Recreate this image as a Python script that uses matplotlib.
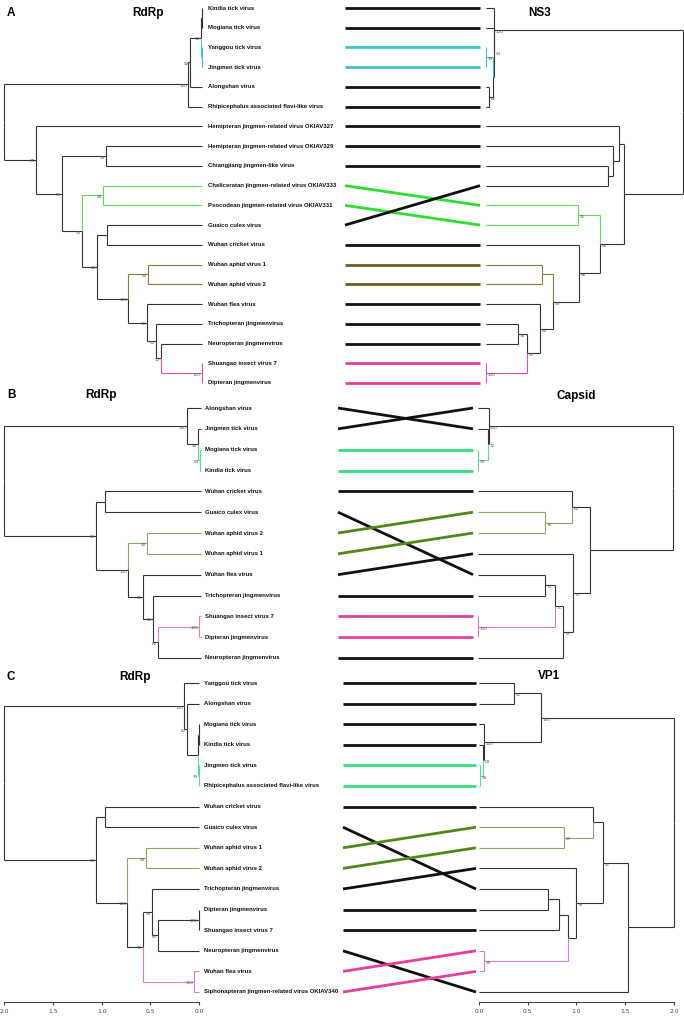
import matplotlib
matplotlib.use('Agg')
import matplotlib.pyplot as plt
from matplotlib.transforms import offset_copy

# ---------------- data ----------------
NAMES = {
    'KIN': 'Kindia tick virus', 'MOG': 'Mogiana tick virus', 'YAN': 'Yanggou tick virus',
    'JIN': 'Jingmen tick virus', 'ALO': 'Alongshan virus',
    'RHI': 'Rhipicephalus associated flavi-like virus',
    'H327': 'Hemipteran jingmen-related virus OKIAV327',
    'H329': 'Hemipteran jingmen-related virus OKIAV329',
    'CHI': 'Chiangjiang jingmen-like virus',
    'CHE': 'Cheliceratan jingmen-related virus OKIAV333',
    'PSO': 'Psocodean jingmen-related virus OKIAV331',
    'GUA': 'Guaico culex virus', 'CRI': 'Wuhan cricket virus',
    'AP1': 'Wuhan aphid virus 1', 'AP2': 'Wuhan aphid virus 2',
    'FLE': 'Wuhan flea virus', 'TRI': 'Trichopteran jingmenvirus',
    'NEU': 'Neuropteran jingmenvirus', 'SHU': 'Shuangao insect virus 7',
    'DIP': 'Dipteran jingmenvirus',
    'SIP': 'Siphonapteran jingmen-related virus OKIAV340',
}

# trees: (children)support@height ; height = distance from the tips on the axis scale
TREE_A_LEFT = ("(((((KIN,MOG)@0.005,(YAN,JIN)@0.005)93@0.012,ALO)92@0.123,RHI)100@0.144,"
               "(H327,((H329,CHI)99@0.986,((CHE,PSO)90@1.016,((GUA,CRI)@0.975,((AP1,AP2)90@0.554,"
               "(FLE,(TRI,(NEU,(SHU,DIP)100@0.003)52@0.421)53@0.472)55@0.565)100@0.760)50@1.078)"
               "53@1.232)53@1.437)95@1.70)@2.03")
TREE_A_RIGHT = ("((KIN,(MOG,((YAN,JIN)99@0.005,(ALO,RHI)66@0.03)@0.077)94@0.082)100@0.087,"
                "((H327,(H329,(CHI,GUA)@1.253)@1.304)@1.366,((CHE,PSO)91@0.945,(CRI,((AP1,AP2)@0.575,"
                "(FLE,((TRI,NEU)76@0.329,(SHU,DIP)100@0.005)97@0.421)69@0.554)99@0.688)86@0.955)"
                "66@1.170)@1.417)@2.023")
TREE_B_LEFT = ("((ALO,(JIN,(MOG,KIN)99@0.015)92@0.03)100@0.144,((CRI,GUA)@0.986,((AP2,AP1)90@0.554,"
               "(FLE,(TRI,((SHU,DIP)100@0.02,NEU)82@0.441)50@0.493)55@0.595)100@0.75)93@1.078)@2.02")
TREE_B_RIGHT = ("((JIN,(ALO,(MOG,KIN)99@0.005)72@0.103)100@0.108,((CRI,(AP2,AP1)76@0.688)61@0.965,"
                "(FLE,(((GUA,TRI)73@0.688,(SHU,DIP)100@0.005)71@0.79,NEU)79@0.873)73@0.975)@1.15)@2.0")
TREE_C_LEFT = ("((YAN,(ALO,((MOG,KIN)@0.005,(JIN,RHI)99@0.005)@0.012)62@0.123)100@0.154,"
               "((CRI,GUA)@0.965,((AP1,AP2)90@0.544,((TRI,((DIP,SHU)100@0.005,NEU)60@0.421)99@0.483,"
               "(FLE,SIP)100@0.051)55@0.575)100@0.739)53@1.057)@2.0")
TREE_C_RIGHT = ("(((YAN,ALO)91@0.36,(MOG,(KIN,(JIN,RHI)99@0.01)69@0.041)100@0.051)100@0.637,"
                "(((CRI,(AP1,AP2)67@0.873)@1.17,(TRI,(((GUA,DIP)@0.708,SHU)@0.821,(FLE,SIP)99@0.051)"
                "@0.914)78@0.996)91@1.273,NEU)@1.53)@2.0")

CLADES_A = [(('YAN', 'JIN'), '#3cc6c6', '#3cc6c6'), (('CHE', 'PSO'), '#2ee02e', '#55e055'),
            (('AP1', 'AP2'), '#6e5f1e', '#8a7a38'), (('SHU', 'DIP'), '#e6409c', '#e050ac')]
CLADES_B = [(('MOG', 'KIN'), '#33e07e', '#55dc9a'), (('AP1', 'AP2'), '#4e8a1a', '#8aa862'),
            (('SHU', 'DIP'), '#e6409c', '#e27cc0')]
CLADES_C = [(('JIN', 'RHI'), '#33e07e', '#55dc9a'), (('AP1', 'AP2'), '#4e8a1a', '#8aa862'),
            (('FLE', 'SIP'), '#e6409c', '#e27cc0')]

AXIS_TICKS = [2.0, 1.5, 1.0, 0.5, 0.0]

# ---------------- helpers ----------------
def parse(s):
    pos = 0
    def node():
        nonlocal pos
        if s[pos] == '(':
            pos += 1
            ch = [node()]
            while s[pos] == ',':
                pos += 1
                ch.append(node())
            pos += 1  # ')'
            j = pos
            while pos < len(s) and s[pos] not in ',)@':
                pos += 1
            lab = s[j:pos]
            h = 0.0
            if pos < len(s) and s[pos] == '@':
                pos += 1
                j = pos
                while pos < len(s) and s[pos] not in ',)':
                    pos += 1
                h = float(s[j:pos])
            return {'children': ch, 'label': lab, 'h': h, 'color': None}
        j = pos
        while s[pos] not in ',)':
            pos += 1
        return {'name': s[j:pos].strip(), 'h': 0.0, 'color': None}
    return node()

def set_y(n, leaves):
    if 'name' in n:
        leaves.append(n)
        n['y'] = len(leaves)
        n['tips'] = {n['name']}
    else:
        for c in n['children']:
            set_y(c, leaves)
        n['y'] = (n['children'][0]['y'] + n['children'][-1]['y']) / 2
        n['tips'] = set().union(*[c['tips'] for c in n['children']])

def all_nodes(n):
    yield n
    for c in n.get('children', []):
        yield from all_nodes(c)

def paint(root, tips, col):
    best = None
    for n in all_nodes(root):
        if set(tips) <= n['tips'] and (best is None or len(n['tips']) < len(best['tips'])):
            best = n
    for n in all_nodes(best):
        n['color'] = col

TREE_COL = '#333333'
W, H = 684, 1019
PX = 97.4

fig = plt.figure(figsize=(W / 100, H / 100), dpi=100)
fig.patch.set_facecolor('white')

def draw_tree(ax, root, side):
    for n in all_nodes(root):
        if 'children' not in n:
            continue
        for c in n['children']:
            col = c['color'] or TREE_COL
            ax.plot([n['h'], n['h']], [n['y'], c['y']], color=col, lw=0.8,
                    solid_capstyle='butt', clip_on=False)
            ax.plot([n['h'], c['h']], [c['y'], c['y']], color=col, lw=0.8,
                    solid_capstyle='butt', clip_on=False)
        if n['label']:
            if side == 'left':
                tr = offset_copy(ax.transData, fig, x=-1.0, y=-1.5, units='dots')
                ax.text(n['h'], n['y'], n['label'], transform=tr, ha='right', va='center',
                        fontsize=3.0, color='#555555')
            else:
                tr = offset_copy(ax.transData, fig, x=1.5, y=-2.0, units='dots')
                ax.text(n['h'], n['y'], n['label'], transform=tr, ha='left', va='center',
                        fontsize=3.0, color='#555555')

PANELS = [
    dict(tag='A', left=TREE_A_LEFT, right=TREE_A_RIGHT, clades=CLADES_A, rtitle='NS3',
         y0=8, y1=383, ltip=202, rtip=486, mx0=345, mx1=480, loff=5.5,
         tag_xy=(11, 13), lt_xy=(148, 13), rt_xy=(540, 13), axis=False),
    dict(tag='B', left=TREE_B_LEFT, right=TREE_B_RIGHT, clades=CLADES_B, rtitle='Capsid',
         y0=408, y1=658, ltip=201, rtip=478, mx0=338, mx1=473, loff=3.5,
         tag_xy=(11, 395), lt_xy=(101, 395), rt_xy=(576, 396), axis=False),
    dict(tag='C', left=TREE_C_LEFT, right=TREE_C_RIGHT, clades=CLADES_C, rtitle='VP1',
         y0=683, y1=992, ltip=199, rtip=479, mx0=343, mx1=476, loff=4.5,
         tag_xy=(11, 677), lt_xy=(135, 677), rt_xy=(549, 676), axis=True),
]

for p in PANELS:
    L = parse(p['left'])
    R = parse(p['right'])
    lleaves, rleaves = [], []
    set_y(L, lleaves)
    set_y(R, rleaves)
    line_col = {}
    for tips, lc, tc in p['clades']:
        paint(L, tips, tc)
        paint(R, tips, tc)
        for t in tips:
            line_col[t] = lc
    n = len(lleaves)
    step = (p['y1'] - p['y0']) / (n - 1)
    top = p['y0'] - step / 2
    bot = p['y1'] + step / 2

    def mk(x0, x1):
        ax = fig.add_axes([x0 / W, 1 - bot / H, (x1 - x0) / W, (bot - top) / H])
        ax.set_ylim(n + 0.5, 0.5)
        ax.patch.set_alpha(0)
        for s in ax.spines.values():
            s.set_visible(False)
        ax.set_yticks([])
        ax.set_xticks([])
        return ax

    axL = mk(0, p['ltip'])
    axL.set_xlim(p['ltip'] / PX, 0)
    axR = mk(p['rtip'], W)
    axR.set_xlim(0, (W - p['rtip']) / PX)
    axM = mk(p['mx0'], p['mx1'])
    axM.set_xlim(0, 1)

    draw_tree(axL, L, 'left')
    draw_tree(axR, R, 'right')

    tr = offset_copy(axL.transData, fig, x=p['loff'], y=0, units='dots')
    for lf in lleaves:
        axL.text(0, lf['y'], NAMES[lf['name']], transform=tr, ha='left', va='center',
                 fontsize=4.3, fontweight='bold', family='Liberation Sans', color='#111111')

    rpos = {lf['name']: lf['y'] for lf in rleaves}
    for lf in lleaves:
        axM.plot([0, 1], [lf['y'], rpos[lf['name']]], color=line_col.get(lf['name'], '#111111'),
                 lw=2.0, solid_capstyle='butt', clip_on=False)

    fig.text(p['tag_xy'][0] / W, 1 - p['tag_xy'][1] / H, p['tag'], ha='center', va='center',
             fontsize=8.5, fontweight='bold', family='Liberation Sans')
    fig.text(p['lt_xy'][0] / W, 1 - p['lt_xy'][1] / H, 'RdRp', ha='center', va='center',
             fontsize=8.5, fontweight='bold', family='Liberation Sans')
    fig.text(p['rt_xy'][0] / W, 1 - p['rt_xy'][1] / H, p['rtitle'], ha='center', va='center',
             fontsize=8.5, fontweight='bold', family='Liberation Sans')

    if p['axis']:
        for ax in (axL, axR):
            sp = ax.spines['bottom']
            sp.set_visible(True)
            sp.set_bounds(0, 2.0)
            sp.set_color('#444444')
            sp.set_linewidth(0.8)
            ax.set_xticks(AXIS_TICKS)
            ax.set_xticklabels(['%.1f' % t for t in AXIS_TICKS])
            ax.tick_params(axis='x', direction='out', length=2.5, width=0.8, colors='#444444',
                           labelsize=4.3, pad=2.5)

fig.savefig('out.png', dpi=100, facecolor='white')
